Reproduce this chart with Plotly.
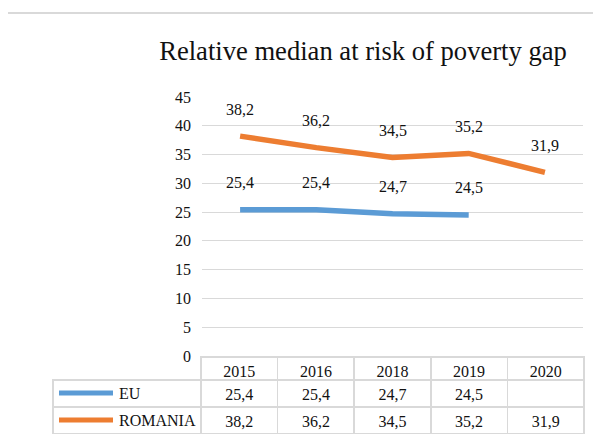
import plotly.graph_objects as go

years = ["2015", "2016", "2018", "2019", "2020"]
eu = [25.4, 25.4, 24.7, 24.5, None]
romania = [38.2, 36.2, 34.5, 35.2, 31.9]
series_names = ["EU", "ROMANIA"]
colors = ["#5B9BD5", "#ED7D31"]
title = "Relative median at risk of poverty gap"

W, H = 601, 437
OX, OY = 8, 8  # page body margin offset
FONT = "Liberation Serif, Times New Roman, serif"
FS = 16
GRID = "#D9D9D9"
TXT = "#111111"

def px_x(p):
    return (p - OX) / W

def px_y(p):
    return (H - (p - OY)) / H

def fmt(v):
    return "" if v is None else f"{v:.1f}".replace(".", ",")

fig = go.Figure()
all_series = [eu, romania]
for name, vals, col in zip(series_names, all_series, colors):
    fig.add_trace(go.Scatter(
        x=years, y=vals, mode="lines", name=name,
        line=dict(color=col, width=5.5), connectgaps=False,
        showlegend=False, hoverinfo="skip",
    ))
    for i, v in enumerate(vals):
        if v is None:
            continue
        fig.add_annotation(x=i, y=v, text=fmt(v), showarrow=False,
                           yshift=27, font=dict(family=FONT, size=FS, color=TXT),
                           xref="x", yref="y")

# data table under the chart
header_vals = [""] + years
cell_vals = [[fmt(e), fmt(r)] for e, r in zip(eu, romania)]
fig.add_trace(go.Table(
    domain=dict(x=[px_x(53), px_x(584)], y=[px_y(434), px_y(357)]),
    columnwidth=[148, 76.6, 76.6, 76.6, 76.6, 76.6],
    header=dict(values=header_vals, height=23, align="center",
                line=dict(color=["rgba(0,0,0,0)"] + [GRID] * 5, width=1.6),
                fill=dict(color=["rgba(0,0,0,0)"] + ["white"] * 5),
                font=dict(family=FONT, size=FS, color=TXT)),
    cells=dict(values=[["", ""]] + cell_vals, height=27, align="center",
               line=dict(color=GRID, width=1.6),
               fill=dict(color="white"),
               font=dict(family=FONT, size=FS, color=TXT)),
))

# legend keys inside the table's first column
row_centers = [393, 420]
for name, col, yc in zip(series_names, colors, row_centers):
    fig.add_shape(type="line", xref="paper", yref="paper",
                  x0=px_x(59), x1=px_x(113), y0=px_y(yc), y1=px_y(yc),
                  line=dict(color=col, width=5))
    fig.add_annotation(x=px_x(117), y=px_y(yc), xref="paper", yref="paper",
                       text=name, showarrow=False, xanchor="left", yanchor="middle",
                       font=dict(family=FONT, size=FS, color=TXT))

# chart-area border
fig.add_shape(type="rect", xref="paper", yref="paper",
              x0=px_x(6.5), x1=px_x(640), y0=px_y(470), y1=px_y(13),
              line=dict(color=GRID, width=2), fillcolor="rgba(0,0,0,0)", layer="below")

fig.update_layout(
    template="none",
    width=W, height=H,
    margin=dict(l=0, r=0, t=0, b=0, pad=0),
    paper_bgcolor="white", plot_bgcolor="white",
    title=dict(text=title, x=px_x(363), xanchor="center", y=px_y(51), yanchor="middle",
               yref="paper", xref="paper",
               font=dict(family=FONT, size=26.6, color=TXT)),
    xaxis=dict(domain=[px_x(202), px_x(583)], range=[-0.5, 4.5], type="category",
               showticklabels=False, showgrid=False, zeroline=False, showline=False,
               ticks="", automargin=False),
    yaxis=dict(domain=[px_y(356), px_y(97)], range=[0, 45], dtick=5, tick0=0,
               showgrid=True, gridcolor=GRID, gridwidth=1.3, zeroline=False,
               showline=False, ticks="", ticklabelstandoff=10, automargin=False,
               tickfont=dict(family=FONT, size=FS, color=TXT)),
)

fig.write_html("out.html")
